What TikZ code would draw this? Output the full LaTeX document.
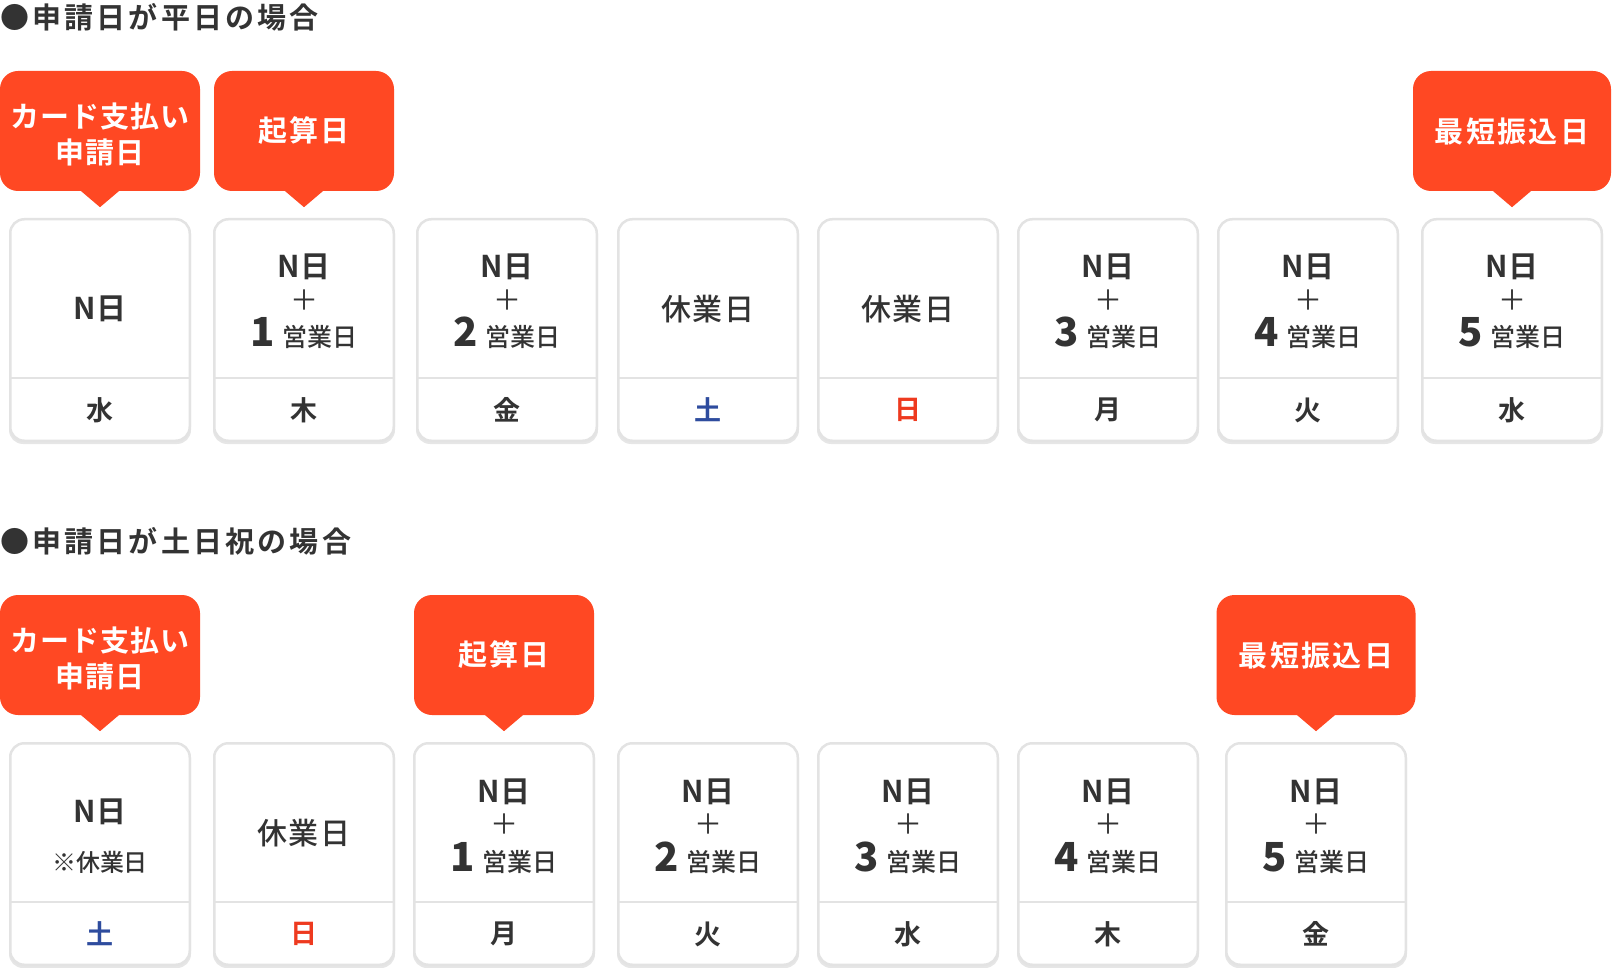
\documentclass[tikz,border=0pt]{standalone}
\usepackage{fontspec}
\setmainfont{Noto Sans CJK JP}[BoldFont={Noto Sans CJK JP Medium}]
\newfontfamily\heavy{Noto Sans CJK JP Bold}
\newfontfamily\blackdigit{Noto Sans CJK JP Black}
\definecolor{accent}{HTML}{FF4823}
\definecolor{ink}{HTML}{333333}
\definecolor{satblue}{HTML}{2E4C9E}
\definecolor{sunred}{HTML}{EE3A1F}
\definecolor{cardline}{HTML}{E3E3E3}
\definecolor{cardshade}{HTML}{E6E6E6}
\tikzset{
  daycard/.style={draw=cardline, line width=2.5pt, fill=white, rounded corners=14pt,
    minimum width=179.5pt, minimum height=221.5pt, inner sep=0pt},
  cardshadow/.style={fill=cardshade, draw=none, rounded corners=14pt,
    minimum width=182pt, minimum height=224pt, inner sep=0pt},
  divline/.style={draw=cardline, line width=2.5pt},
  callout/.style={fill=accent, rounded corners=18pt, inner sep=0pt, text=white,
    minimum height=120pt, align=center,
    font=\heavy\fontsize{29}{36}\selectfont\addfontfeatures{LetterSpace=8}},
  pointer/.style={fill=accent, draw=none},
  title/.style={anchor=west, inner sep=0pt, text=ink,
    font=\heavy\fontsize{29}{29}\selectfont\addfontfeatures{LetterSpace=11}},
  nday/.style={inner sep=0pt, text=ink,
    font=\heavy\fontsize{30}{30}\selectfont\addfontfeatures{LetterSpace=4}},
  offday/.style={inner sep=0pt, text=ink,
    font=\bfseries\fontsize{30}{30}\selectfont\addfontfeatures{LetterSpace=4}},
  note/.style={inner sep=0pt, text=ink,
    font=\bfseries\fontsize{24}{24}\selectfont},
  plusmark/.style={inner sep=0pt, text=ink, font=\fontsize{28}{28}\selectfont},
  bizline/.style={inner sep=0pt, text=ink, anchor=base},
  wday/.style={inner sep=0pt, text=ink, font=\heavy\fontsize{27}{27}\selectfont},
}
\newcommand\mkcard[5]{% name, center x, top y, weekday, colour
  \node[cardshadow] at (#2,#3+114) {};
  \node[daycard] (#1) at (#2,#3+112) {};
  \draw[divline] (#2-89.5,#3+160) -- (#2+89.5,#3+160);
  \node[wday, text=#5] (#1-wd) at (#2,#3+192) {#4};
}
\newcommand\bizday[4]{% name, center x, top y, k
  \node[nday, anchor=base] (#1-n) at (#2,#3+60) {N日};
  \node[plusmark] (#1-p) at (#2,#3+82) {＋};
  \node[bizline] (#1-k) at (#2,#3+129)
    {{\blackdigit\fontsize{40}{40}\selectfont #4}\hspace{7pt}{\bfseries\fontsize{25}{25}\selectfont 営業日}};
}
\newcommand\restday[3]{% name, center x, top y
  \node[offday] (#1-r) at (#2,#3+91) {休業日};
}
\newcommand\mkcallout[5]{% name, center x, center y, width, text
  \node[callout, minimum width=#4pt] (#1) at (#2,#3) {#5};
  \fill[pointer] ([xshift=-20pt,yshift=1pt]#1.south) -- ([xshift=20pt,yshift=1pt]#1.south)
    -- ([yshift=-16pt]#1.south) -- cycle;
}
\newcommand\paylabel{\parbox{200pt}{\centering\vspace*{6pt}\addfontfeatures{LetterSpace=4}カード支払い\\申請日}}
\begin{document}
\begin{tikzpicture}[x=1pt,y=-1pt]
\useasboundingbox (0,0) rectangle (1612,968);
% ---------- weekday case ----------
\node[title] (t1) at (0,17.5) {●申請日が平日の場合};
\mkcallout{cw1}{100}{131}{200}{\paylabel}
\mkcallout{cw2}{304}{131}{180}{起算日}
\mkcallout{cw8}{1512}{131}{198}{最短振込日}

\mkcard{w1}{100}{218}{水}{ink}
\node[nday] (w1-n) at (100,309) {N日};
\mkcard{w2}{304}{218}{木}{ink}
\bizday{w2}{304}{218}{1}
\mkcard{w3}{507}{218}{金}{ink}
\bizday{w3}{507}{218}{2}
\mkcard{w4}{708}{218}{土}{satblue}
\restday{w4}{708}{218}
\mkcard{w5}{908}{218}{日}{sunred}
\restday{w5}{908}{218}
\mkcard{w6}{1108}{218}{月}{ink}
\bizday{w6}{1108}{218}{3}
\mkcard{w7}{1308}{218}{火}{ink}
\bizday{w7}{1308}{218}{4}
\mkcard{w8}{1512}{218}{水}{ink}
\bizday{w8}{1512}{218}{5}

% ---------- holiday case ----------
\node[title] (t2) at (0,541.5) {●申請日が土日祝の場合};
\mkcallout{ch1}{100}{655}{200}{\paylabel}
\mkcallout{ch3}{504}{655}{180}{起算日}
\mkcallout{ch7}{1316}{655}{199}{最短振込日}

\mkcard{h1}{100}{742}{土}{satblue}
\node[nday] (h1-n) at (100,812) {N日};
\node[note] (h1-x) at (100,862) {※休業日};
\mkcard{h2}{304}{742}{日}{sunred}
\restday{h2}{304}{742}
\mkcard{h3}{504}{742}{月}{ink}
\bizday{h3}{504}{742}{1}
\mkcard{h4}{708}{742}{火}{ink}
\bizday{h4}{708}{742}{2}
\mkcard{h5}{908}{742}{水}{ink}
\bizday{h5}{908}{742}{3}
\mkcard{h6}{1108}{742}{木}{ink}
\bizday{h6}{1108}{742}{4}
\mkcard{h7}{1316}{742}{金}{ink}
\bizday{h7}{1316}{742}{5}
\end{tikzpicture}
\end{document}
